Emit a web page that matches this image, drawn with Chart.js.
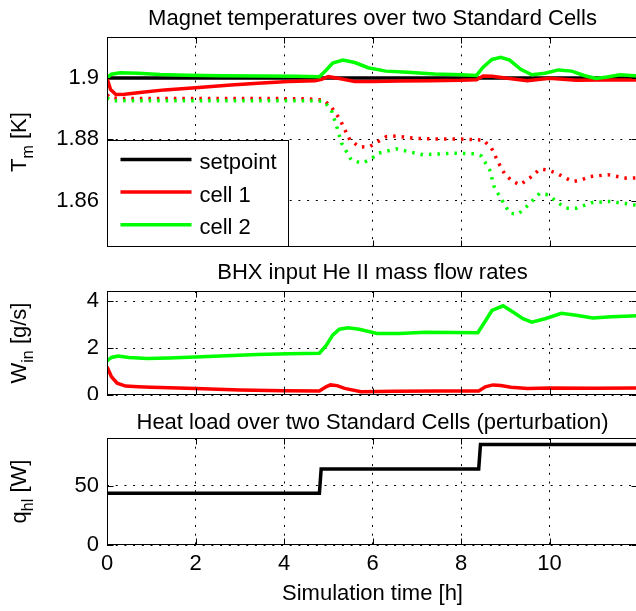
<!DOCTYPE html>
<html><head><meta charset="utf-8">
<script src="https://cdn.jsdelivr.net/npm/chart.js@4"></script>
<style>
html,body{margin:0;padding:0;background:#fff;overflow:hidden;width:636px;height:611px;}
canvas{position:absolute;left:0;}
</style></head><body>
<canvas id="c1" width="640" height="252" style="top:0px"></canvas>
<canvas id="c2" width="640" height="148" style="top:252px"></canvas>
<canvas id="c3" width="640" height="211" style="top:400px"></canvas>
<script>
const FONT = "'Liberation Sans', Arial, Helvetica, sans-serif";

// ---- texts ----
const title1 = 'Magnet temperatures over two Standard Cells';
const title2 = 'BHX input He II mass flow rates';
const title3 = 'Heat load over two Standard Cells (perturbation)';
const xAxisTitle = 'Simulation time [h]';
const yLabel1 = ['T', 'm', ' [K]'];
const yLabel2 = ['W', 'in', ' [g/s]'];
const yLabel3 = ['q', 'hl', ' [W]'];
const legendLabels = ['setpoint', 'cell 1', 'cell 2'];
const legendColors = ['#000000', '#ff0000', '#00ff00'];

// ---- ticks ----
const xTicks = [0, 2, 4, 6, 8, 10];
const tempTicks = [1.86, 1.88, 1.9];
const flowTicks = [0, 2, 4];
const heatTicks = [0, 50];

// ---- magnet temperatures [K] ----
const setpointT = [0, 12];
const setpointV = [1.9, 1.9];
const cell1T = [0, 0.08, 0.2, 0.4, 0.8, 1.3, 2.0, 2.8, 3.5, 4.1, 4.7, 4.85, 5.0, 5.25, 5.6, 6.0, 6.6, 7.3, 8.0, 8.35, 8.5, 8.7, 9.0, 9.5, 10.0, 10.6, 11.2, 12];
const cell1V = [1.9, 1.8962, 1.8946, 1.8947, 1.8953, 1.8961, 1.8968, 1.8977, 1.8983, 1.8988, 1.8991, 1.8995, 1.9004, 1.8998, 1.8988, 1.8988, 1.8990, 1.8991, 1.8992, 1.8994, 1.9006, 1.9005, 1.9000, 1.8991, 1.8999, 1.8992, 1.8993, 1.8993];
const cell2T = [0, 0.1, 0.3, 0.7, 1.2, 1.8, 2.6, 3.5, 4.3, 4.8, 4.95, 5.1, 5.33, 5.6, 5.9, 6.3, 6.8, 7.4, 8.0, 8.35, 8.5, 8.7, 8.9, 9.1, 9.35, 9.6, 9.9, 10.2, 10.5, 10.8, 11.05, 11.3, 11.6, 12];
const cell2V = [1.9, 1.9012, 1.9017, 1.9015, 1.9011, 1.9009, 1.9007, 1.9006, 1.9005, 1.9004, 1.9025, 1.9048, 1.9058, 1.9050, 1.9033, 1.9022, 1.9018, 1.9013, 1.9010, 1.9008, 1.9035, 1.9060, 1.9067, 1.9058, 1.9028, 1.9010, 1.9015, 1.9026, 1.9022, 1.9007, 1.8998, 1.9003, 1.9010, 1.9006];
const cell1DotT = [0, 0.1, 0.5, 1.5, 2.5, 3.5, 4.5, 4.9, 5.07, 5.26, 5.49, 5.71, 5.94, 6.15, 6.31, 6.54, 6.92, 7.4, 8.0, 8.5, 8.69, 8.88, 8.99, 9.15, 9.33, 9.55, 9.78, 9.97, 10.16, 10.35, 10.53, 10.72, 10.91, 11.32, 11.74, 12];
const cell1DotV = [1.8945, 1.8934, 1.8933, 1.8933, 1.8933, 1.8933, 1.8932, 1.8928, 1.8905, 1.8866, 1.8798, 1.8775, 1.8777, 1.8795, 1.8809, 1.8811, 1.8804, 1.8801, 1.8801, 1.8798, 1.8771, 1.8715, 1.8687, 1.8665, 1.8652, 1.8674, 1.8703, 1.8700, 1.8690, 1.8675, 1.8663, 1.8668, 1.8679, 1.8685, 1.8674, 1.8675];
const cell2DotT = [0, 0.1, 0.5, 1.5, 2.5, 3.5, 4.5, 4.9, 5.07, 5.19, 5.3, 5.52, 5.75, 5.94, 6.13, 6.54, 7.14, 7.82, 8.31, 8.46, 8.65, 8.76, 8.88, 9.1, 9.29, 9.48, 9.78, 9.97, 10.18, 10.38, 10.61, 10.95, 11.36, 11.78, 12];
const cell2DotV = [1.8935, 1.8926, 1.8926, 1.8926, 1.8926, 1.8926, 1.8926, 1.8924, 1.8896, 1.8842, 1.8788, 1.8733, 1.8723, 1.8733, 1.8755, 1.8769, 1.8750, 1.8755, 1.8753, 1.8746, 1.8700, 1.8641, 1.8614, 1.8560, 1.8557, 1.8581, 1.8625, 1.8620, 1.8595, 1.8576, 1.8576, 1.8594, 1.8598, 1.8590, 1.8585];

// ---- BHX input mass flow rates [g/s] ----
const flow1T = [0, 0.1, 0.23, 0.42, 0.7, 1.0, 2.0, 3.0, 4.0, 4.8, 4.95, 5.05, 5.2, 5.37, 5.74, 6.5, 7.5, 8.4, 8.55, 8.72, 8.9, 9.13, 9.5, 10.0, 11.0, 12];
const flow1V = [1.2, 0.78, 0.5, 0.38, 0.35, 0.33, 0.28, 0.21, 0.18, 0.17, 0.35, 0.43, 0.4, 0.28, 0.14, 0.16, 0.17, 0.17, 0.35, 0.43, 0.4, 0.33, 0.28, 0.3, 0.29, 0.3];
const flow2T = [0, 0.1, 0.25, 0.5, 0.9, 1.4, 2.0, 2.7, 3.4, 4.1, 4.8, 4.95, 5.1, 5.25, 5.45, 5.7, 6.1, 6.6, 7.2, 7.8, 8.38, 8.5, 8.7, 8.95, 9.2, 9.4, 9.6, 9.9, 10.27, 10.6, 10.98, 11.4, 12];
const flow2V = [1.45, 1.6, 1.66, 1.6, 1.55, 1.58, 1.62, 1.67, 1.72, 1.76, 1.78, 2.1, 2.55, 2.8, 2.86, 2.8, 2.62, 2.62, 2.67, 2.66, 2.65, 3.0, 3.6, 3.8, 3.5, 3.25, 3.1, 3.25, 3.48, 3.4, 3.28, 3.33, 3.38];

// ---- heat load [W] ----
const heatT = [0, 4.8, 4.84, 8.4, 8.44, 12];
const heatV = [43.5, 43.5, 64, 64, 84.5, 84.5];

const pts = (t, v) => t.map((x, i) => ({x: x, y: v[i]}));
const fmt = v => String(Math.round(v * 1000) / 1000);
const noPad = s => { s.paddingTop = 0; s.paddingBottom = 0; s.paddingLeft = 0; s.paddingRight = 0; };

const framePlugin = {
  id: 'frame',
  afterDatasetsDraw(chart, args, opts) {
    const ctx = chart.ctx, a = chart.chartArea, xs = chart.scales.x, ys = chart.scales.y;
    const L = Math.round(a.left) + 0.5, R = Math.round(a.right) - 0.5;
    const T = Math.round(a.top) + 0.5, B = Math.round(a.bottom) - 0.5;
    ctx.save();
    ctx.strokeStyle = '#000'; ctx.lineWidth = 1; ctx.setLineDash([]);
    const seg = (x1, y1, x2, y2) => { ctx.beginPath(); ctx.moveTo(x1, y1); ctx.lineTo(x2, y2); ctx.stroke(); };
    xs.ticks.forEach(t => { const p = Math.round(xs.getPixelForValue(t.value)) + 0.5; seg(p, B, p, B - 6); seg(p, T, p, T + 6); });
    ys.ticks.forEach(t => { const p = Math.round(ys.getPixelForValue(t.value)) + 0.5; seg(L, p, L + 6, p); seg(R, p, R - 6, p); });
    if (opts.legend) {
      const lx = L, ly = 140.5, lw = 181, lh = B - ly;
      ctx.fillStyle = '#fff'; ctx.fillRect(lx, ly, lw, lh);
      ctx.strokeRect(lx, ly, lw, lh);
      ctx.font = '22px ' + FONT; ctx.textBaseline = 'alphabetic'; ctx.textAlign = 'left';
      legendLabels.forEach((lab, i) => {
        const yy = 159.5 + i * 32.6;
        ctx.strokeStyle = legendColors[i]; ctx.lineWidth = 3.5;
        seg(lx + 13, yy, lx + 84, yy);
        ctx.fillStyle = '#000';
        ctx.fillText(lab, lx + 92, yy + 9.5);
      });
      ctx.strokeStyle = '#000'; ctx.lineWidth = 1;
    }
    ctx.strokeRect(L, T, R - L, B - T);
    ctx.restore();
  },
  afterDraw(chart, args, opts) {
    if (!opts.ylabel) return;
    const ctx = chart.ctx, a = chart.chartArea;
    const [m, s, r] = opts.ylabel;
    ctx.save();
    ctx.fillStyle = '#000'; ctx.textBaseline = 'alphabetic'; ctx.textAlign = 'left';
    ctx.font = '22px ' + FONT; const wm = ctx.measureText(m).width; const wr = ctx.measureText(r).width;
    ctx.font = '16px ' + FONT; const ws = ctx.measureText(s).width;
    const total = wm + ws + wr;
    ctx.translate(26, (a.top + a.bottom) / 2);
    ctx.rotate(-Math.PI / 2);
    const x0 = -total / 2;
    ctx.font = '22px ' + FONT; ctx.fillText(m, x0, 0);
    ctx.font = '16px ' + FONT; ctx.fillText(s, x0 + wm, 7);
    ctx.font = '22px ' + FONT; ctx.fillText(r, x0 + wm + ws, 0);
    ctx.restore();
  }
};

function options(o) {
  return {
    responsive: false, animation: false, devicePixelRatio: 1,
    layout: {padding: {left: 0, right: 2, top: 0, bottom: 0}},
    elements: {point: {radius: 0}, line: {tension: 0}},
    plugins: {
      legend: {display: false}, tooltip: {enabled: false},
      title: {display: true, text: o.title, fullSize: false, color: '#000',
              font: {family: FONT, size: 22, weight: 'normal'}, padding: o.titlePad},
      frame: {legend: !!o.legend, ylabel: o.ylabel}
    },
    scales: {
      x: {
        type: 'linear', min: 0, max: 12,
        afterBuildTicks: s => { s.ticks = xTicks.map(v => ({value: v})); },
        afterFit: s => { s.height = o.xHeight; noPad(s); },
        grid: {color: '#000', lineWidth: 1, drawTicks: false},
        border: {display: false, dash: [2, 6.7]},
        ticks: {display: !!o.showX, color: '#000', padding: 6, maxRotation: 0, autoSkip: false,
                font: {family: FONT, size: 22}, callback: v => fmt(v)},
        title: {display: !!o.showX, text: xAxisTitle, color: '#000', padding: {top: 0, bottom: 4},
                font: {family: FONT, size: 22}}
      },
      y: {
        type: 'linear', min: o.yMin, max: o.yMax,
        afterBuildTicks: s => { s.ticks = o.yTicks.map(v => ({value: v})); },
        afterFit: s => { s.width = 107; noPad(s); },
        grid: {color: '#000', lineWidth: 1, drawTicks: false},
        border: {display: false, dash: [2, 6.7]},
        ticks: {color: '#000', padding: 8, autoSkip: false, font: {family: FONT, size: 22}, callback: v => fmt(v)}
      }
    }
  };
}

const solid = (data, color, order) => ({data, borderColor: color, backgroundColor: color, borderWidth: 3.5, fill: false, order});
const dotted = (data, color, order) => ({data, borderColor: color, backgroundColor: color, borderWidth: 3.5, borderDash: [2.5, 6], fill: false, order});

new Chart(document.getElementById('c1'), {
  type: 'line',
  data: {datasets: [
    solid(pts(cell2T, cell2V), '#00ff00', 0),
    solid(pts(cell1T, cell1V), '#ff0000', 1),
    solid(pts(setpointT, setpointV), '#000000', 2),
    dotted(pts(cell2DotT, cell2DotV), '#00ff00', 3),
    dotted(pts(cell1DotT, cell1DotV), '#ff0000', 4)
  ]},
  options: options({title: title1, titlePad: {top: 5.5, bottom: 5.1}, yMin: 1.845, yMax: 1.9133, yTicks: tempTicks,
                    xHeight: 5, legend: true, ylabel: yLabel1}),
  plugins: [framePlugin]
});

new Chart(document.getElementById('c2'), {
  type: 'line',
  data: {datasets: [
    solid(pts(flow2T, flow2V), '#00ff00', 0),
    solid(pts(flow1T, flow1V), '#ff0000', 1)
  ]},
  options: options({title: title2, titlePad: {top: 7.6, bottom: 5}, yMin: 0, yMax: 4.43, yTicks: flowTicks,
                    xHeight: 5, ylabel: yLabel2}),
  plugins: [framePlugin]
});

new Chart(document.getElementById('c3'), {
  type: 'line',
  data: {datasets: [
    solid(pts(heatT, heatV), '#000000', 0)
  ]},
  options: options({title: title3, titlePad: {top: 9.8, bottom: 1.8}, yMin: 0, yMax: 90, yTicks: heatTicks,
                    xHeight: 66, showX: true, ylabel: yLabel3}),
  plugins: [framePlugin]
});
</script>
</body></html>
